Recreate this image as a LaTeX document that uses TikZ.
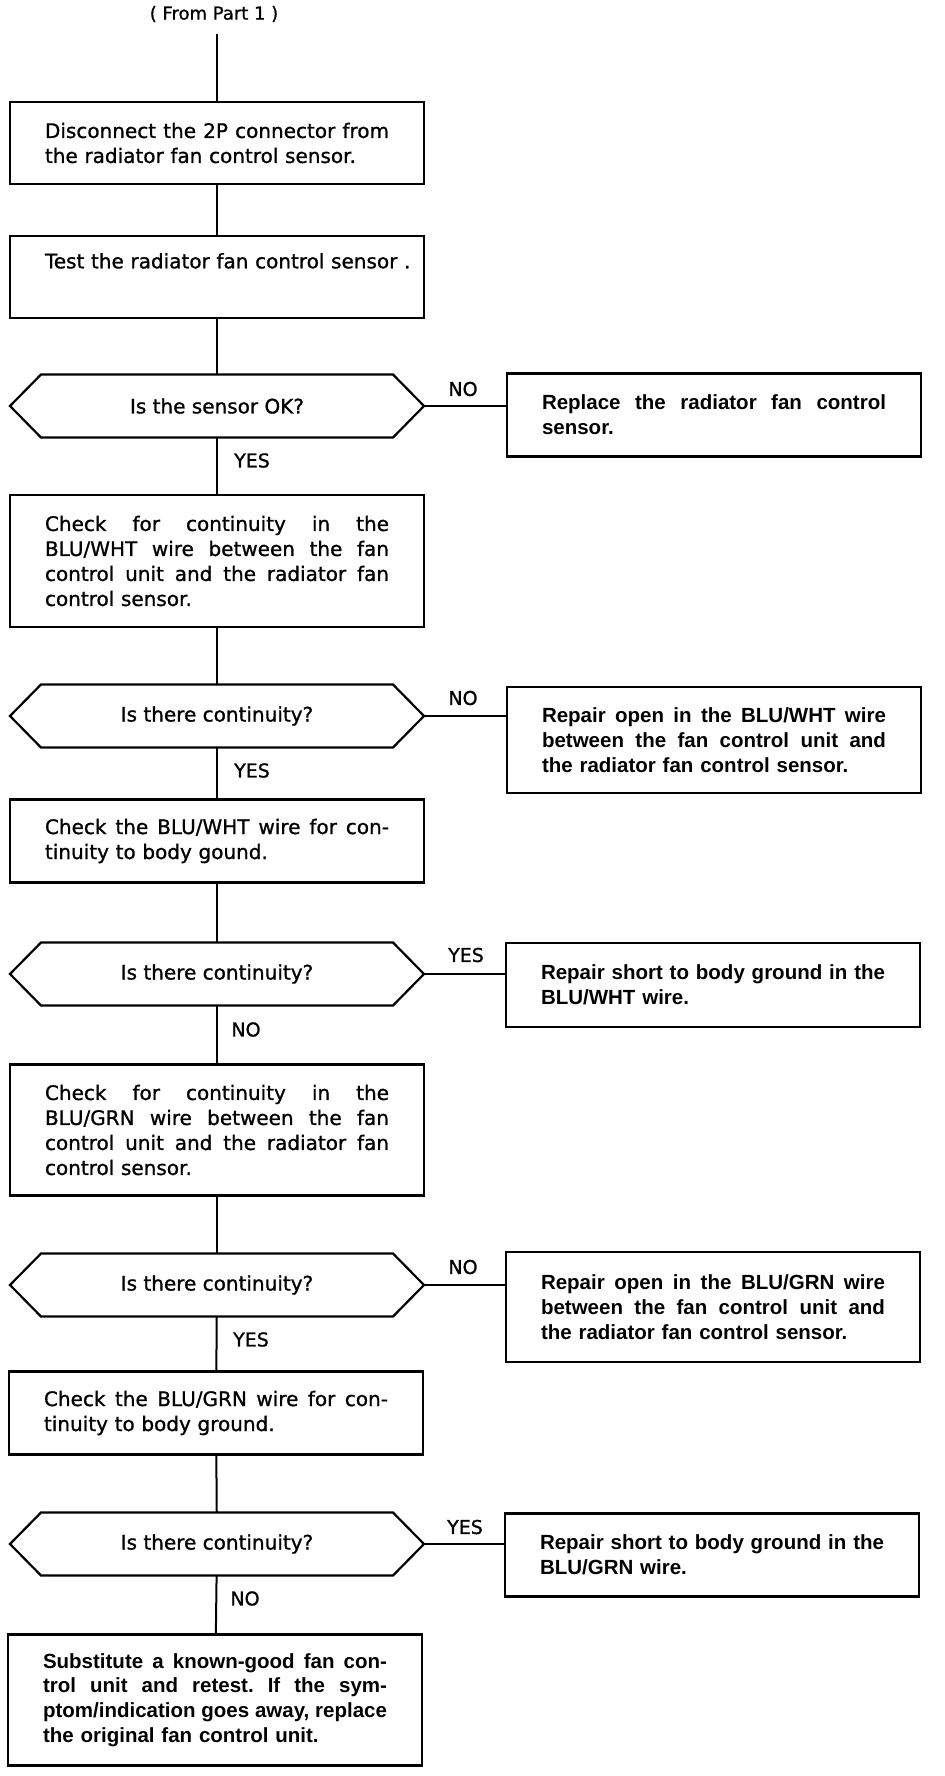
\documentclass[tikz,border=0pt]{standalone}
\usepackage{fontspec}
\setmainfont{DejaVu Sans}[FakeBold=1]
\newfontfamily\repairfont{Liberation Sans}
\usetikzlibrary{positioning}

% stretch one line of a box to the full text width
\makeatletter
\def\fillline#1{\leavevmode\hbox to 172pt{\fl@word#1 \fl@end}}
\def\fl@word#1 #2\fl@end{#1\ifx\relax#2\relax\else\hfill\fl@word#2\fl@end\fi}
\makeatother
% six-sided frame round a question node
\newcommand{\hexframe}[1]{%
  \draw[line width=1.1pt] (#1.west) -- ([xshift=15.5pt]#1.north west) -- ([xshift=-15.5pt]#1.north east)
    -- (#1.east) -- ([xshift=-15.5pt]#1.south east) -- ([xshift=15.5pt]#1.south west) -- cycle;}

\begin{document}
\begin{tikzpicture}[x=0.5pt, y=-0.5pt, line width=1pt,
  every node/.style={font=\fontsize{10}{12.5}\selectfont, inner sep=0pt},
  stepbox/.style={draw, line width=1.1pt, minimum width=207pt, minimum height=#1,
    text width=172pt, align=left},
  fixbox/.style={stepbox=#1, font=\repairfont\bfseries\fontsize{10.25}{12.4}\selectfont},
  question/.style={minimum width=206pt, minimum height=30.5pt},
  answer/.style={font=\fontsize{9.5}{11}\selectfont}]
  \useasboundingbox (0,0) rectangle (944,1776);

  % Start
  \node[font=\fontsize{9}{11}\selectfont] (from) at (214,14) {( From Part 1 )};
  \coordinate (fromend) at (217,34);

  % Main column
  \node[stepbox=41pt] (s1) at (217,143)
    {\fillline{Disconnect the 2P connector from}\\the radiator fan control sensor.};
  \node[stepbox=41pt] (s2) at (217,277)
    {\mbox{Test the radiator fan control sensor .}\\ \strut};
  \node[question] (q1) at (217,406) {Is the sensor OK?};
  \node[stepbox=66pt] (s3) at (217,561)
    {\fillline{Check for continuity in the}\\\fillline{BLU/WHT wire between the fan}\\
     \fillline{control unit and the radiator fan}\\control sensor.};
  \node[question] (q2) at (217,716) {Is there continuity?};
  \node[stepbox=41.5pt] (s4) at (217,841)
    {\fillline{Check the BLU/WHT wire for con-}\\tinuity to body gound.};
  \node[question] (q3) at (217,974) {Is there continuity?};
  \node[stepbox=65.5pt] (s5) at (217,1130)
    {\fillline{Check for continuity in the}\\\fillline{BLU/GRN wire between the fan}\\
     \fillline{control unit and the radiator fan}\\control sensor.};
  \node[question] (q4) at (217,1285) {Is there continuity?};
  \node[stepbox=41.5pt] (s6) at (216,1413)
    {\fillline{Check the BLU/GRN wire for con-}\\tinuity to body ground.};
  \node[question] (q5) at (217,1544) {Is there continuity?};
  \node[fixbox=65.5pt] (s7) at (215,1700)
    {\fillline{Substitute a known-good fan con-}\\\fillline{trol unit and retest. If the sym-}\\
     \fillline{ptom/indication goes away, replace}\\the original fan control unit.};

  \foreach \q in {q1,q2,q3,q4,q5} {\hexframe{\q}}

  % Repair column
  \node[fixbox=41.5pt] (f1) at (714,415)
    {\fillline{Replace the radiator fan control}\\sensor.};
  \node[fixbox=53pt] (f2) at (714,740)
    {\fillline{Repair open in the BLU/WHT wire}\\\fillline{between the fan control unit and}\\
     the radiator fan control sensor.};
  \node[fixbox=42pt] (f3) at (713,985)
    {\fillline{Repair short to body ground in the}\\BLU/WHT wire.};
  \node[fixbox=55pt] (f4) at (713,1307)
    {\fillline{Repair open in the BLU/GRN wire}\\\fillline{between the fan control unit and}\\
     the radiator fan control sensor.};
  \node[fixbox=41.5pt] (f5) at (712,1555)
    {\fillline{Repair short to body ground in the}\\BLU/GRN wire.};

  % Connectors
  \draw (fromend) -- (s1);
  \draw (s1) -- (s2);
  \draw (s2) -- (q1);
  \draw (q1) -- (s3);
  \draw (s3) -- (q2);
  \draw (q2) -- (s4);
  \draw (s4) -- (q3);
  \draw (q3) -- (s5);
  \draw (s5) -- (q4);
  \draw (q4) -- (s6);
  \draw (s6) -- (q5);
  \draw (q5) -- (s7);
  \draw (q1.east) -- (q1.east -| f1.west);
  \draw (q2.east) -- (q2.east -| f2.west);
  \draw (q3.east) -- (q3.east -| f3.west);
  \draw (q4.east) -- (q4.east -| f4.west);
  \draw (q5.east) -- (q5.east -| f5.west);

  % Answers
  \node[answer] (a1r) at ([shift={(39,-17)}]q1.east) {NO};
  \node[answer] (a1d) at ([shift={(35,23)}]q1.south) {YES};
  \node[answer] (a2r) at ([shift={(39,-18)}]q2.east) {NO};
  \node[answer] (a2d) at ([shift={(35,23)}]q2.south) {YES};
  \node[answer] (a3r) at ([shift={(42,-19)}]q3.east) {YES};
  \node[answer] (a3d) at ([shift={(29,24)}]q3.south) {NO};
  \node[answer] (a4r) at ([shift={(39,-18)}]q4.east) {NO};
  \node[answer] (a4d) at ([shift={(34,23)}]q4.south) {YES};
  \node[answer] (a5r) at ([shift={(41,-17)}]q5.east) {YES};
  \node[answer] (a5d) at ([shift={(28,23)}]q5.south) {NO};
\end{tikzpicture}
\end{document}
